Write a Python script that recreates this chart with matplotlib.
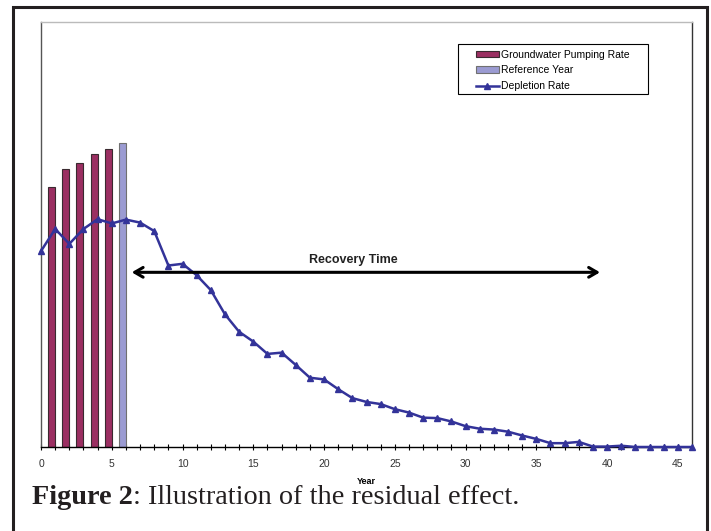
import matplotlib.pyplot as plt
from matplotlib.patches import Rectangle

# data (y in % of the plot height)
pump_years = [1, 2, 3, 4, 5]
pump_rate = [61.1, 65.3, 66.8, 69.0, 70.2]
ref_year = [6]
ref_rate = [71.6]
years = list(range(0, 47))
depletion = [46.1, 51.3, 47.8, 51.3, 53.6, 52.6, 53.5, 52.8, 50.8, 42.7,
             43.1, 40.4, 36.9, 31.2, 27.1, 24.8, 21.9, 22.2, 19.3, 16.3,
             15.9, 13.6, 11.5, 10.6, 10.1, 8.9, 8.1, 6.9, 6.8, 6.0,
             4.9, 4.3, 4.1, 3.6, 2.7, 1.9, 0.9, 0.9, 1.2, 0.1,
             0.1, 0.3, 0.0, 0.0, 0.0, 0.0, 0.0]
recovery_start = 6.41
recovery_end = 39.5
recovery_level = 41.1
xticks = list(range(0, 47))
xticklabels = [str(t) if t % 5 == 0 else '' for t in xticks]

plt.rcParams['font.family'] = ['Liberation Sans', 'DejaVu Sans']

fig = plt.figure(figsize=(7.11, 5.31), dpi=100)
ax = fig.add_axes([0.0577, 0.1582, 0.9156, 0.8004])

# bars sit on the left half of each year slot
b1 = ax.bar(pump_years, pump_rate, width=-0.5, align='edge', color='#9b2f62',
            edgecolor='#3a2a30', linewidth=0.8,
            label='Groundwater Pumping Rate', zorder=2)
b2 = ax.bar(ref_year, ref_rate, width=-0.5, align='edge', color='#9b9bd2',
            edgecolor='#707070', linewidth=0.8, label='Reference Year',
            zorder=2)
l1, = ax.plot(years, depletion, color='#333399', lw=1.8, marker='^',
              markersize=4.5, label='Depletion Rate', zorder=3, clip_on=False)

ax.annotate('', xy=(recovery_start, recovery_level),
            xytext=(recovery_end, recovery_level),
            arrowprops=dict(arrowstyle='<->,head_length=0.6,head_width=0.35',
                            color='black', lw=2.2, shrinkA=0, shrinkB=0),
            zorder=4)
ax.text((recovery_start + recovery_end) / 2 - 0.9, recovery_level + 2.9,
        'Recovery Time', fontsize=9, fontweight='bold', color='#222222',
        ha='center', va='center')

ax.set_xlim(0, 46)
ax.set_ylim(0, 100)
ax.set_yticks([])
ax.set_xticks(xticks)
ax.set_xticklabels(xticklabels)
ax.tick_params(axis='x', direction='inout', length=5, width=0.8,
               labelsize=7.5, labelcolor='#333333', pad=6)
ax.set_xlabel('Year', fontsize=6.5, fontweight='bold', labelpad=6)

ax.spines['left'].set_color('#555555')
ax.spines['top'].set_color('#bbbbbb')
ax.spines['right'].set_color('#333333')
ax.spines['bottom'].set_color('black')
for s in ax.spines.values():
    s.set_linewidth(1.0)

# legend without its own frame, box drawn separately for the wide left margin
ax.legend(handles=[b1, b2, l1], loc='upper left',
          bbox_to_anchor=(0.668, 0.935), borderaxespad=0, borderpad=0,
          fontsize=7.5, frameon=False, handlelength=2.2, handleheight=0.6,
          handletextpad=0.2, labelspacing=0.55)
ax.add_patch(Rectangle((0.6406, 0.8306), 0.2919, 0.1176,
                       transform=ax.transAxes, fill=False,
                       edgecolor='black', linewidth=0.8, zorder=5))

# outer frame around chart and caption
fig.patches.append(Rectangle((0.0183, -0.05), 0.9761, 1.0368,
                             transform=fig.transFigure, fill=False,
                             edgecolor='#231f20', linewidth=2.2))

t1 = fig.text(0.045, 0.0508, 'Figure 2', fontsize=20.3, fontweight='bold',
              family='Liberation Serif', color='#231f20', va='baseline')
ax.annotate(': Illustration of the residual effect.', xy=(1, 0),
            xycoords=t1, va='bottom', ha='left', fontsize=20.3,
            family='Liberation Serif', color='#231f20',
            annotation_clip=False)

fig.savefig('out.png', dpi=100)
